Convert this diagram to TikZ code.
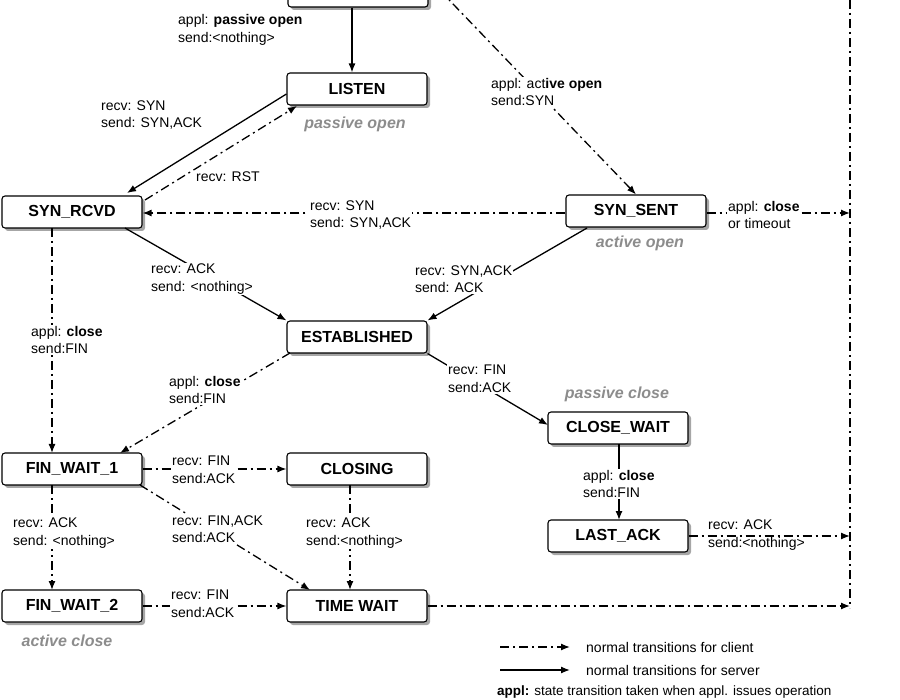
\documentclass[tikz,border=0pt]{standalone}
\usepackage{fontspec}
\setmainfont{Liberation Sans}
\usetikzlibrary{arrows.meta,shadows}
\begin{document}
\begin{tikzpicture}[x=1pt,y=-1pt,
  state/.style={draw,line width=1.1pt,rounded corners=3pt,fill=white,minimum width=140pt,minimum height=32pt,
    font=\fontsize{16}{18}\selectfont\bfseries,drop shadow={shadow xshift=3pt,shadow yshift=-3pt,fill=black!35,opacity=1}},
  lbl/.style={align=left,anchor=west,font=\fontsize{14}{17.5}\selectfont,inner sep=0pt},
  wl/.style={lbl,fill=white,inner sep=1pt},
  gl/.style={font=\fontsize{16}{18}\selectfont\bfseries\itshape,text=black!45},
  cli/.style={line width=1.3pt,dash pattern=on 9pt off 4pt on 2pt off 4pt,-{Latex[length=9pt,width=7pt]}},
  srv/.style={line width=1.3pt,-{Latex[length=9pt,width=7pt]}},
  cline/.style={line width=1.3pt,dash pattern=on 9pt off 4pt on 2pt off 4pt}]
\useasboundingbox (0,0) rectangle (900,700);
\clip (0,0) rectangle (900,700);
\node[state] (closed) at (358,-9) {};
\node[state] (listen) at (357,89) {LISTEN};
\node[state] (synrcvd) at (72,212) {SYN\_RCVD};
\node[state] (synsent) at (636,211) {SYN\_SENT};
\node[state] (est) at (357,337) {ESTABLISHED};
\node[state] (cwait) at (618,428) {CLOSE\_WAIT};
\node[state] (lack) at (618,536) {LAST\_ACK};
\node[state] (fw1) at (72,469) {FIN\_WAIT\_1};
\node[state] (closing) at (357,469) {CLOSING};
\node[state] (fw2) at (72,606) {FIN\_WAIT\_2};
\node[state] (tw) at (357,606) {TIME WAIT};
\coordinate (rtop) at (850,0);
\coordinate (r1) at (850,213);
\coordinate (r2) at (850,536);
\coordinate (r3) at (850,606);
\draw[cline] (rtop) -- (850,608);
\node[gl] (g1) at (355,124) {passive open};
\node[gl] (g2) at (640,243) {active open};
\node[gl] (g3) at (617,394) {passive close};
\node[gl] (g4) at (67,641) {active close};
% edges
\draw[srv] (closed.south -| 352,0) -- (listen.north -| 352,0);
\node[lbl] (l1) at (178,30) {appl: \textbf{passive open}\\send:<nothing>};
\draw[cli] (closed.north east) ++(-2,2) -- (synsent.north);
\node[wl] (l2) at (490,92) {appl: act\textbf{ive open}\\send:SYN};
\draw[srv] (listen.west) ++(0,5) -- (127,193);
\node[lbl] (l3) at (101,115) {recv: SYN\\send: SYN,ACK};
\draw[cli] (145,200) -- (297,106);
\node[lbl] (l4) at (196,177) {recv: RST};
\draw[cli] (synsent.west) ++(0,2) -- (synrcvd.east |- 0,213);
\node[wl] (l5) at (309,215) {recv: SYN\\send: SYN,ACK};
\draw[cli] (synsent.east) ++(0,2) -- (r1);
\node[wl] (l6) at (727,215) {appl: \textbf{close}\\or timeout};
\draw[srv] (125,228) -- (est.north west);
\node[wl] (l7) at (150,279) {recv: ACK\\send: <nothing>};
\draw[srv] (587,228) -- (est.north east);
\node[wl] (l8) at (414,279) {recv: SYN,ACK\\send: ACK};
\draw[cli] (52,228) -- (52,453);
\node[wl] (l9) at (30,340) {appl: \textbf{close}\\send:FIN};
\draw[cli] (290,353) -- (120,453);
\node[wl] (l10) at (168,390) {appl: \textbf{close}\\send:FIN};
\draw[srv] (est.south east) -- (548,425);
\node[wl] (l11) at (447,379) {recv: FIN\\send:ACK};
\draw[srv] (619,444) -- (619,520);
\node[wl] (l12) at (582,484) {appl: \textbf{close}\\send:FIN};
\draw[cli] (lack.east) -- (r2);
\node[lbl] (l13) at (708,535) {recv: ACK\\send:<nothing>};
\draw[cli] (fw1.east) -- (closing.west);
\node[wl] (l14) at (171,470) {recv: FIN\\send:ACK};
\draw[cli] (140,485) -- (310,590);
\node[wl] (l15) at (171,529) {recv: FIN,ACK\\send:ACK};
\draw[cli] (52,485) -- (52,590);
\node[wl] (l16) at (12,533) {recv: ACK\\send: <nothing>};
\draw[cli] (350,485) -- (350,590);
\node[wl] (l17) at (305,533) {recv: ACK\\send:<nothing>};
\draw[cli] (fw2.east) -- (tw.west);
\node[wl] (l18) at (170,604) {recv: FIN\\send:ACK};
\draw[cli] (tw.east) -- (r3);
% legend
\coordinate (a1) at (500,647); \coordinate (a2) at (570,647);
\coordinate (b1) at (500,670); \coordinate (b2) at (570,670);
\draw[cli] (a1) -- (a2);
\draw[srv] (b1) -- (b2);
\node[lbl] (t1) at (586,647) {normal transitions for client};
\node[lbl] (t2) at (586,670) {normal transitions for server};
\node[lbl,font=\fontsize{13.5}{16}\selectfont] (t3) at (497,692) {\textbf{appl:} state transition taken when appl. issues operation};
\end{tikzpicture}
\end{document}
